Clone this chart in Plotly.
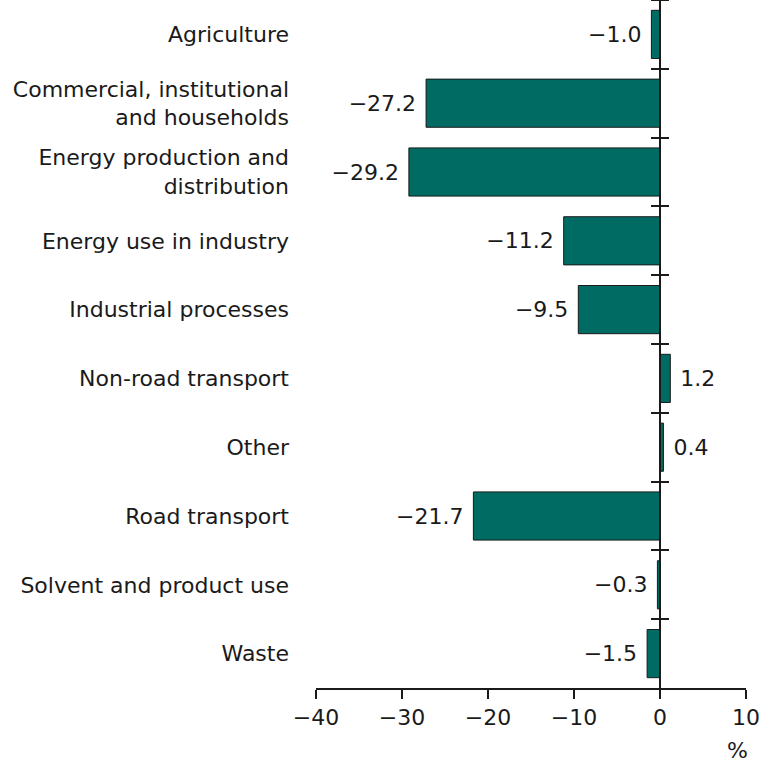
import plotly.graph_objects as go

categories = [
    "Agriculture",
    "Commercial, institutional<br>and households",
    "Energy production and<br>distribution",
    "Energy use in industry",
    "Industrial processes",
    "Non-road transport",
    "Other",
    "Road transport",
    "Solvent and product use",
    "Waste",
]
values = [-1.0, -27.2, -29.2, -11.2, -9.5, 1.2, 0.4, -21.7, -0.3, -1.5]
x_ticks = [-40, -30, -20, -10, 0, 10]

FONT = "Verdana, DejaVu Sans, sans-serif"
BAR = "#006b63"
FS = 22

def fmt(v):
    s = f"{v:.1f}".replace("-", "\u2212")
    return s + "\u00a0" if v < 0 else "\u00a0" + s

labels = [fmt(v) for v in values]

fig = go.Figure()
fig.add_trace(go.Bar(
    x=values, y=categories, orientation="h",
    marker=dict(color=BAR, line=dict(color="#1a1a1a", width=1)),
    width=0.7,
    text=labels, textposition="outside", cliponaxis=False,
    textfont=dict(family=FONT, size=FS, color="#1a1a1a"),
    hoverinfo="skip",
))
# invisible helper traces for the crossing ticks on the zero axis
for ax in ["y2", "y3"]:
    fig.add_trace(go.Scatter(x=values, y=categories, yaxis=ax, mode="none",
                             hoverinfo="skip", showlegend=False))

xpos = (0 - x_ticks[0]) / (x_ticks[-1] - x_ticks[0])

fig.update_layout(
    width=759, height=768,
    margin=dict(l=316, r=13, t=0, b=80),
    plot_bgcolor="white", paper_bgcolor="white",
    showlegend=False,
    font=dict(family=FONT, size=FS, color="#1a1a1a"),
    xaxis=dict(
        range=[x_ticks[0], x_ticks[-1]], tickvals=x_ticks,
        ticks="outside", ticklen=9, tickwidth=1.5, tickcolor="#1a1a1a",
        showline=True, linecolor="#1a1a1a", linewidth=1.5,
        showgrid=False, zeroline=False, ticklabeloverflow="allow",
        tickfont=dict(family=FONT, size=FS, color="#1a1a1a"),
    ),
    yaxis=dict(
        type="category", categoryorder="array", categoryarray=categories,
        autorange="reversed", showline=False, ticks="", showgrid=False,
        ticklabelstandoff=26,
        tickfont=dict(family=FONT, size=FS, color="#1a1a1a"),
    ),
    yaxis2=dict(
        type="category", categoryorder="array", categoryarray=categories,
        autorange="reversed", overlaying="y", anchor="free", position=xpos,
        side="left", ticks="outside", tickson="boundaries", ticklen=8,
        tickwidth=1.5, tickcolor="#1a1a1a", showticklabels=False,
        showline=True, linecolor="#1a1a1a", linewidth=1.5, showgrid=False,
    ),
    yaxis3=dict(
        type="category", categoryorder="array", categoryarray=categories,
        autorange="reversed", overlaying="y", anchor="free", position=xpos,
        side="right", ticks="outside", tickson="boundaries", ticklen=8,
        tickwidth=1.5, tickcolor="#1a1a1a", showticklabels=False,
        showline=False, showgrid=False,
    ),
    annotations=[dict(
        text="%", xref="paper", yref="paper", x=0.98, y=0, yshift=-62,
        xanchor="center", yanchor="middle", showarrow=False,
        font=dict(family=FONT, size=FS, color="#1a1a1a"),
    )],
)

fig.write_html("out.html", config={"displayModeBar": False},
               post_script="document.body.style.margin='0px';")
